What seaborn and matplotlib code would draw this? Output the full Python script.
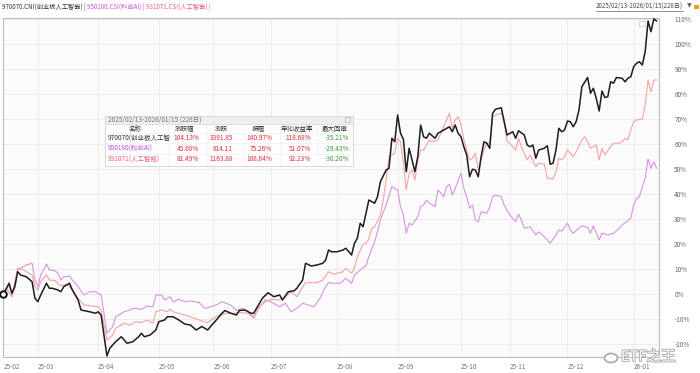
import pandas as pd
import seaborn as sns
import matplotlib.pyplot as plt
import matplotlib.patheffects as pe
from matplotlib.patches import Rectangle, Ellipse
from matplotlib.lines import Line2D

# trading day number (0 = 2025-02-13) and cumulative change in %
cni_days = [0, 2, 3, 4, 5, 6, 8, 10, 11, 12, 13, 15, 16, 17, 19, 20, 21, 23, 24, 26,
            27, 30, 32, 33, 34, 36, 37, 39, 41, 43, 45, 47, 48, 49, 51, 53, 54, 56, 57, 59,
            61, 63, 65, 67, 69, 71, 72, 74, 76, 77, 79, 81, 82, 84, 86, 87, 89, 90, 92, 94,
            96, 97, 99, 101, 102, 104, 105, 107, 109, 111, 112, 113, 114, 116, 118, 119, 121, 122, 123, 124,
            125, 126, 127, 129, 130, 131, 133, 134, 135, 136, 137, 138, 139, 140, 141, 142, 143, 144, 145, 146,
            147, 148, 150, 151, 152, 153, 155, 156, 157, 158, 159, 160, 161, 162, 163, 164, 165, 166, 167, 168,
            169, 170, 171, 173, 174, 175, 177, 178, 179, 181, 182, 183, 184, 185, 186, 188, 189, 190, 191, 192,
            193, 194, 195, 196, 197, 198, 199, 200, 201, 203, 204, 205, 206, 207, 208, 209, 210, 211, 212, 213,
            215, 216, 217, 218, 219, 220, 221, 222, 223, 224, 225, 226, 227]
cni_vals = [0, 4.4, 0.4, 3, 9, 7.7, 7, 5, -1.6, -3, -0.3, 4.4, 2.4, 2.4, 1.7, 1, 3, 4.4, 1.7, -2.3,
            -6.3, -7, -7.6, -7, -8.4, -24.7, -21.6, -19, -17, -19.6, -19, -17, -15.6, -17, -16.3, -14.3, -11, -10.3, -9, -9,
            -10.3, -11.9, -12.3, -14.3, -12.9, -14.3, -12.9, -10.3, -7.6, -6.5, -7.6, -8.3, -6.5, -6.3, -7.6, -7.6, -3.6, -1.6, 0.6, -1,
            -0.3, -2.3, 1, 1.4, 2.4, 5.7, 12.4, 11.3, 11.7, 12.4, 13.7, 17.7, 17, 17, 17.7, 18.4, 15.7, 20.4, 22.4, 28.4,
            27, 32.4, 37.7, 36.4, 39, 45, 49.7, 50.4, 62.4, 61, 71.7, 64.4, 62, 49, 58.4, 53.7, 49, 55, 67.7, 63,
            62.4, 64.4, 62.4, 64.4, 65, 65.7, 67, 65, 67.7, 64.4, 63, 59, 55.7, 47, 50, 49.7, 47, 55, 61, 60.4,
            58.4, 72.4, 74, 74.6, 69, 63.7, 65, 62.4, 65.4, 63.7, 59.7, 59, 59.7, 54.4, 57.7, 58.4, 59.4, 52, 52.4, 57.7,
            66.4, 65, 65.7, 69.3, 69, 67, 69, 73.7, 83, 86.7, 80.4, 82.4, 78.4, 73.3, 81.3, 78.7, 79, 85, 84.4, 86.7,
            86.4, 85, 86.4, 87, 91, 92.4, 93, 91.7, 97, 109.3, 105, 110.1, 109.3]

kc_days = [0, 1, 3, 4, 5, 6, 8, 10, 11, 12, 13, 15, 16, 18, 19, 20, 21, 23, 24, 26,
           28, 30, 32, 34, 35, 36, 38, 39, 42, 44, 45, 48, 50, 52, 53, 55, 56, 58, 59, 61,
           63, 65, 68, 70, 72, 74, 76, 79, 81, 83, 85, 87, 89, 91, 93, 96, 98, 100, 102, 104,
           106, 108, 110, 112, 113, 115, 117, 119, 121, 122, 124, 126, 127, 128, 129, 130, 131, 133, 135, 137,
           138, 139, 140, 141, 142, 144, 145, 146, 147, 148, 150, 151, 152, 153, 154, 155, 156, 157, 159, 160,
           161, 162, 163, 164, 165, 166, 168, 169, 170, 171, 173, 174, 176, 178, 179, 180, 181, 183, 185, 186,
           188, 190, 192, 193, 194, 196, 197, 198, 200, 201, 203, 204, 205, 207, 208, 210, 212, 214, 215, 217,
           218, 219, 220, 221, 222, 223, 224, 225, 226, 227]
kc_vals = [0, 2.4, -1, 3, 9.7, 10.4, 11.7, 12.4, 5.7, 3, 7.7, 12.1, 9.7, 9.4, 8.4, 5.7, 7, 7.2, 5.7, 3,
           -0.3, 1, 1, -0.3, -7.6, -15.6, -13, -9, -7, -6.3, -5.6, -6, -4.7, -5, -0.3, -0.3, -2.3, -1, -3, -2,
           -3, -2.7, -3.3, -5.6, -5, -4.3, -3, -4.3, -6.5, -5.6, -7, -9, -5, -2.3, -3, -5, -3.6, -7, -5.6, -3.6,
           -4.3, -5, -1.6, 3, 4.6, 4.4, 4.4, 6.4, 4.4, 7.7, 9.7, 11.5, 15, 18, 21, 25, 29.7, 35.7, 43, 41.7,
           35, 31.7, 24.4, 28.4, 27.7, 31, 35, 35.7, 37.7, 36.4, 35, 41.7, 40.4, 39, 43, 44, 39.7, 42.4, 48.4, 42.4,
           39, 34.4, 35.7, 29.7, 29, 33, 32.4, 35, 39, 39.7, 39, 35.7, 31.7, 29, 32, 29.7, 26.4, 27, 23.7, 25,
           23, 20.4, 23.7, 25.7, 25.3, 28.4, 25.7, 24.4, 26.4, 27.4, 26.7, 24.4, 27.4, 21.7, 24.4, 23.7, 24.4, 26.4, 27.7, 29.4,
           30.4, 35.7, 38.4, 39, 43, 46.4, 54.1, 50.4, 53, 50.4]

ai_days = [0, 2, 3, 5, 7, 9, 10, 11, 12, 13, 15, 16, 18, 20, 22, 24, 26, 28, 31, 33,
           34, 36, 38, 39, 42, 44, 46, 48, 50, 52, 53, 55, 57, 58, 59, 61, 63, 65, 68, 70,
           71, 73, 75, 78, 80, 82, 85, 87, 89, 91, 93, 96, 98, 100, 102, 104, 105, 107, 109, 111,
           113, 114, 115, 116, 118, 119, 121, 122, 123, 125, 126, 127, 128, 129, 131, 132, 133, 134, 136, 137,
           138, 139, 140, 141, 142, 143, 144, 145, 146, 148, 149, 151, 152, 153, 155, 156, 157, 158, 159, 160,
           162, 163, 164, 165, 167, 168, 169, 170, 171, 173, 174, 175, 176, 178, 179, 180, 182, 183, 185, 186,
           188, 189, 191, 192, 193, 194, 195, 196, 198, 199, 201, 202, 203, 204, 206, 207, 208, 209, 211, 212,
           214, 215, 216, 217, 218, 219, 220, 222, 223, 224, 225, 226, 227]
ai_vals = [0, 3.7, -0.3, 10.4, 9.7, 8.4, 7.7, 3, 1.7, 5, 7.7, 5.7, 5.5, 3.3, 4.1, 1.7, -1.6, -4.3, -4.7, -5,
           -6.3, -18.3, -16.3, -13.6, -11.6, -12.3, -11, -11.3, -10.3, -11.6, -7, -6.3, -7, -6, -7, -7.6, -8.3, -9, -10.3, -11,
           -11.4, -9.6, -8.3, -7.6, -7.6, -7.3, -7.6, -9.6, -5, -3, -2, -2.3, -1, 1, -1, 3, 4.6, 4.6, 4.6, 5.7,
           9, 8.4, 8, 8.4, 9, 10.4, 8.4, 10.4, 15, 20, 20.4, 22, 26.4, 27, 31.7, 37.7, 45.7, 55, 56.4, 62.4,
           61, 52.4, 41.7, 48.4, 49.7, 45.7, 53.7, 57.7, 57.7, 61.7, 61, 61.7, 64.4, 67, 72.4, 66.4, 69.7, 71, 67.7, 61.7,
           53.7, 54.4, 56.4, 49.7, 57.7, 60.4, 60.4, 71, 71.7, 72.4, 70.4, 61, 60.4, 57.7, 62.4, 59, 53.7, 55.7, 51, 52.4,
           52, 46.4, 46.1, 49, 54.4, 53.7, 55, 57.7, 55, 57, 61.7, 63, 61, 58.4, 59.7, 53.7, 58.4, 55.7, 59, 60.4,
           60.4, 61, 62.4, 61.7, 65.7, 69, 69.7, 70, 75.7, 85.7, 81, 85.7, 85.7]

month_days = [0, 12, 33, 54, 73, 93, 116, 137, 159, 176, 196, 219]
month_labels = ['25-02', '25-03', '25-04', '25-05', '25-06', '25-07',
                '25-08', '25-09', '25-10', '25-11', '25-12', '26-01']
y_ticks = list(range(-20, 111, 10))

series_names = ['970070.CNI(创业板人工智能)', '950180.CSI(科创AI)', '931071.CSI(人工智能)']
line_colors = ['#1c1c1c', '#d993e4', '#f4a3a3']
text_colors = ['#333333', '#c452d6', '#f0607a']

period_text = '2025/02/13-2026/01/15 (228日)'
table_cols = ['名称', '涨跌幅', '涨跌', '振幅', '年化收益率', '最大回撤']
# first name is cut off in the widget
table_names = ['970070(创业板人工智', '950180(科创AI)', '931071(人工智能)']
pct_change = ['104.13%', '45.68%', '81.49%']
abs_change = ['3391.85', '814.11', '1163.88']
amplitude = ['140.97%', '75.26%', '108.64%']
annual_ret = ['118.68%', '51.07%', '92.23%']
max_dd = ['-35.21%', '-29.43%', '-30.20%']

W, H = 700, 373


def fx(px):
    return px / W


def fy(py):
    return 1 - py / H


sns.set_style('white')
plt.rcParams['font.family'] = ['Noto Sans CJK SC', 'DejaVu Sans']
plt.rcParams['axes.unicode_minus'] = False

fig = plt.figure(figsize=(7, 3.73), dpi=100)
ax = fig.add_axes([fx(3), fy(357), fx(659) - fx(3), fy(18) - fy(357)])
ax.set_facecolor('#fbfbfb')

frames = {
    series_names[0]: pd.DataFrame({'day': cni_days, 'ret': cni_vals}),
    series_names[1]: pd.DataFrame({'day': kc_days, 'ret': kc_vals}),
    series_names[2]: pd.DataFrame({'day': ai_days, 'ret': ai_vals}),
}

# thin lines first, the black one on top
for i, lw in [(1, 0.8), (2, 0.8), (0, 1.1)]:
    d = frames[series_names[i]]
    sns.lineplot(data=d, x='day', y='ret', color=line_colors[i], linewidth=lw,
                 estimator=None, ax=ax, zorder=3 + (i == 0))

# start point marker
ax.scatter(cni_days[:1], cni_vals[:1], s=22, facecolors='white', edgecolors='#111111',
           linewidths=1.4, zorder=6, clip_on=False)

ax.set_xlim(-0.1, 227.8)
ax.set_ylim(-25.1, 110.5)
ax.set_xticks(month_days)
ax.set_xticklabels(month_labels, ha='left')
ax.set_yticks(y_ticks)
ax.set_yticklabels([f'{v}%' for v in y_ticks], ha='left')
ax.yaxis.tick_right()
ax.tick_params(axis='y', length=0, pad=11, labelsize=4.6, labelcolor='#666666')
ax.tick_params(axis='x', length=0, pad=4, labelsize=4.6, labelcolor='#777777')
ax.set_xlabel('')
ax.set_ylabel('')
ax.grid(True, color='#eaeaea', linewidth=0.6)
for s in ax.spines.values():
    s.set_color('#bdbdbd')
    s.set_linewidth(0.8)

# header legend
prev = fig.text(fx(2), fy(7), series_names[0] + ' | ', color=text_colors[0],
                fontsize=4.5, va='center', ha='left')
for name, c in zip(series_names[1:], text_colors[1:]):
    prev = ax.annotate(name + ' | ', xy=(1, 0), xycoords=prev, va='bottom', ha='left',
                       color=c, fontsize=4.5, annotation_clip=False)

# period selector at top right
pt = fig.text(fx(683), fy(6), period_text.replace(' ', ''), fontsize=4.4, color='#444444',
              ha='right', va='center')
fig.canvas.draw()
bb = pt.get_window_extent().transformed(fig.transFigure.inverted())
fig.add_artist(Line2D([bb.x0, bb.x1], [bb.y0 - 0.002, bb.y0 - 0.002], color='#666666',
                      linewidth=0.5, transform=fig.transFigure))
fig.text(fx(689), fy(6), '▼', fontsize=4.5, color='#666666', ha='center', va='center',
         family='DejaVu Sans')
fig.add_artist(Rectangle((fx(694), fy(9)), fx(5), 3.5 / H, facecolor='#f0a020',
                         edgecolor='none', transform=fig.transFigure))

# small legend toggle box inside plot
fig.add_artist(Rectangle((fx(639), fy(26)), fx(6), 5 / H, facecolor='none',
                         edgecolor='#cccccc', linewidth=0.6, transform=fig.transFigure, zorder=5))

# statistics table
tx0, tx1, ty0, ty1 = 105, 353, 115.5, 165.5
fs = 4.7
fig.add_artist(Rectangle((fx(tx0), fy(ty1)), fx(tx1 - tx0), (ty1 - ty0) / H, facecolor='white',
                         alpha=0.93, edgecolor='#cfcfcf', linewidth=0.6, transform=fig.transFigure,
                         zorder=8))
fig.add_artist(Rectangle((fx(tx0), fy(124)), fx(tx1 - tx0), (124 - ty0) / H, facecolor='#eeeeee',
                         edgecolor='#d5d5d5', linewidth=0.5, transform=fig.transFigure, zorder=9))
fig.text(fx(108), fy(119.6), period_text, fontsize=fs, color='#777777', va='center', zorder=10)
fig.add_artist(Rectangle((fx(345), fy(122)), fx(5), 5 / H, facecolor='none',
                         edgecolor='#bbbbbb', linewidth=0.5, transform=fig.transFigure, zorder=10))

col_center = [135, 185, 221, 258, 297, 335]
col_right = [None, 199, 233, 272, 311, 349]
col_sep = [168, 207, 243, 280, 317]
for x in col_sep:
    fig.add_artist(Line2D([fx(x), fx(x)], [fy(164), fy(124)], color='#f0f0f0', linewidth=0.5,
                          transform=fig.transFigure, zorder=9))
for y in [133, 143.5, 154]:
    fig.add_artist(Line2D([fx(tx0 + 1), fx(tx1 - 1)], [fy(y), fy(y)], color='#f0f0f0',
                          linewidth=0.5, transform=fig.transFigure, zorder=9))
for x, c in zip(col_center, table_cols):
    fig.text(fx(x), fy(128.5), c, fontsize=fs, color='#333333', ha='center', va='center', zorder=10)

row_y = [138.5, 149, 159.5]
value_cols = [pct_change, abs_change, amplitude, annual_ret, max_dd]
for r, y in enumerate(row_y):
    fig.text(fx(108), fy(y), table_names[r], fontsize=fs, color=text_colors[r], va='center',
             zorder=10)
    for j, vals in enumerate(value_cols):
        col = '#3a9a3a' if j == 4 else '#e0303a'
        fig.text(fx(col_right[j + 1]), fy(y), vals[r], fontsize=fs, color=col, ha='right',
                 va='center', zorder=10)

# watermark
stroke = [pe.withStroke(linewidth=1.3, foreground='#a8a8a8')]
fig.text(fx(621), fy(357), 'ETF之王', fontsize=10.5, color='white', va='center', ha='left',
         path_effects=stroke, zorder=10)
fig.add_artist(Ellipse((fx(611), fy(358)), fx(13), 9 / H, facecolor='white',
                       edgecolor='#a8a8a8', linewidth=1.2, transform=fig.transFigure, zorder=10))

fig.savefig('out.png', dpi=100)
plt.close(fig)
